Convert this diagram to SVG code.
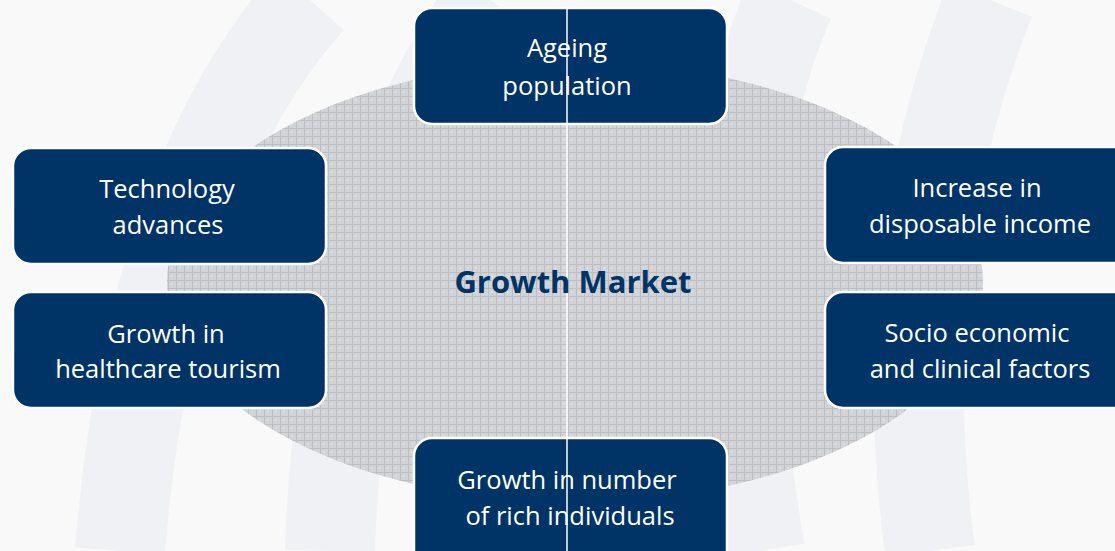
<svg xmlns="http://www.w3.org/2000/svg" width="1115" height="551" viewBox="0 0 1115 551">
<defs>
<pattern id="hatch" width="8" height="8" patternUnits="userSpaceOnUse">
<rect width="8" height="8" fill="#d2d3d6"/>
<path d="M0 0.5H8M0.5 0V8" stroke="#bdbec2" stroke-width="1"/>
<rect x="3" y="3" width="2" height="2" fill="#dcdddf"/>
</pattern>
</defs>
<style>
.box{fill:#003366;stroke:#ffffff;stroke-width:2.5}
.lbl{font-family:"Open Sans","Noto Sans",sans-serif;font-size:25.5px;fill:#ffffff;text-anchor:middle}
.title{font-family:"Open Sans","Noto Sans",sans-serif;font-size:31px;font-weight:bold;fill:#003366;text-anchor:middle}
</style>
<rect width="1115" height="551" fill="#f9f9f9"/>
<g fill="none" stroke="#f0f1f5" stroke-width="90">
<path d="M120 551 Q150 180 310 0"/>
<path d="M330 551 Q340 220 490 0"/>
<path d="M990 0 Q890 250 930 551"/>
<path d="M790 0 Q700 200 760 551"/>
</g>
<ellipse cx="575" cy="282" rx="408" ry="220" fill="url(#hatch)"/>
<g id="connectors">
<line x1="567" y1="8" x2="567" y2="551" stroke="#ffffff" stroke-width="1.5"/>
</g>
<g id="n-ageing">
<rect class="box" x="414" y="8" width="313" height="116" rx="18"/>
<line x1="567" y1="8" x2="567" y2="124" stroke="#ffffff" stroke-width="1.5"/>
<text class="lbl" x="567" y="57">Ageing</text>
<text class="lbl" x="567" y="95">population</text>
</g>
<g id="n-tech">
<rect class="box" x="13" y="148" width="313" height="116" rx="18"/>
<text class="lbl" x="167" y="198">Technology</text>
<text class="lbl" x="168" y="234">advances</text>
</g>
<g id="n-tourism">
<rect class="box" x="13" y="292" width="313" height="116" rx="18"/>
<text class="lbl" x="166" y="343">Growth in</text>
<text class="lbl" x="168" y="378">healthcare tourism</text>
</g>
<g id="n-income">
<rect class="box" x="825" y="147" width="313" height="116" rx="18"/>
<text class="lbl" x="977" y="197">Increase in</text>
<text class="lbl" x="980" y="233">disposable income</text>
</g>
<g id="n-socio">
<rect class="box" x="825" y="292" width="313" height="116" rx="18"/>
<text class="lbl" x="977" y="342">Socio economic</text>
<text class="lbl" x="980" y="378">and clinical factors</text>
</g>
<g id="n-rich">
<rect class="box" x="414" y="438" width="313" height="130" rx="18"/>
<line x1="567" y1="438" x2="567" y2="551" stroke="#ffffff" stroke-width="1.5"/>
<text class="lbl" x="567" y="489">Growth in number</text>
<text class="lbl" x="570" y="525">of rich individuals</text>
</g>
<g id="n-title">
<text class="title" x="573" y="293">Growth Market</text>
</g>
</svg>
